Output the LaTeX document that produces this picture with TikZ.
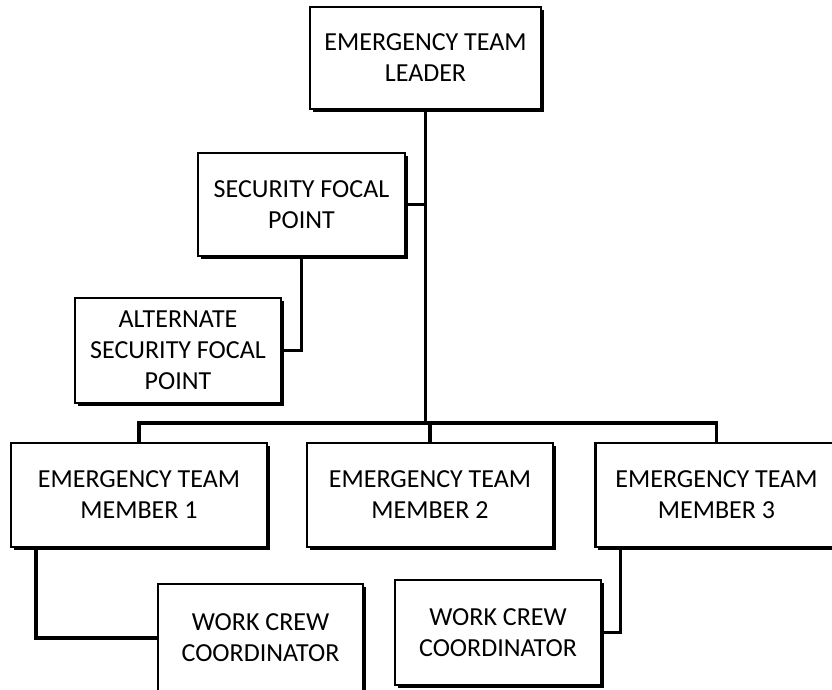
\documentclass[tikz,border=0pt]{standalone}
\usepackage{fontspec}
\setmainfont{Carlito}
\usetikzlibrary{shadows}
\begin{document}
\begin{tikzpicture}[x=1pt,y=1pt,
    post/.style = {rectangle, draw, fill=white, line width=2.4pt,
        align=center, inner sep=0pt,
        minimum width=206pt, minimum height=104pt,
        font=\fontsize{26}{31}\selectfont,
        drop shadow={shadow xshift=2.6pt, shadow yshift=-2.6pt,
            fill=black, opacity=1}},
    link/.style = {line width=3.4pt}]

\useasboundingbox (0,0) rectangle (832,690);

% Leader
\node[post,minimum width=231pt,minimum height=102pt] (leader) at (425.5,632) {EMERGENCY TEAM\\LEADER};

% Security focal points
\node[post,minimum width=207pt,minimum height=103pt] (security) at (301.5,485.5) {SECURITY FOCAL\\POINT};
\node[post,minimum height=105pt] (alternate) at (178,339.5) {ALTERNATE\\SECURITY FOCAL\\POINT};

% Team members
\node[post,minimum width=256pt] (member1) at (139,195) {EMERGENCY TEAM\\MEMBER 1};
\node[post,minimum width=246pt] (member2) at (430,195) {EMERGENCY TEAM\\MEMBER 2};
\node[post,minimum width=242pt] (member3) at (716.5,195) {EMERGENCY TEAM\\MEMBER 3};

% Work crews
\node[post,minimum width=205pt,minimum height=108pt] (crew1) at (260.5,52) {WORK CREW\\COORDINATOR};
\node[post,minimum height=105pt] (crew2) at (498,57.5) {WORK CREW\\COORDINATOR};

% Lines
\coordinate (bus) at (0,267);
\draw[link] (leader.south) -- (leader.south |- bus);
\draw[link] (security.east) -- (security.east -| leader.south);
\draw[link] (security.south) |- (alternate.east);
\draw[link] (member1.north) -- (member1.north |- bus) -| (member3.north);
\draw[link] (member2.north) -- (member2.north |- bus);
\draw[link] ([xshift=26pt]member1.south west) |- (crew1.west);
\draw[link] ([xshift=26pt]member3.south west) |- (crew2.east);
\end{tikzpicture}
\end{document}
